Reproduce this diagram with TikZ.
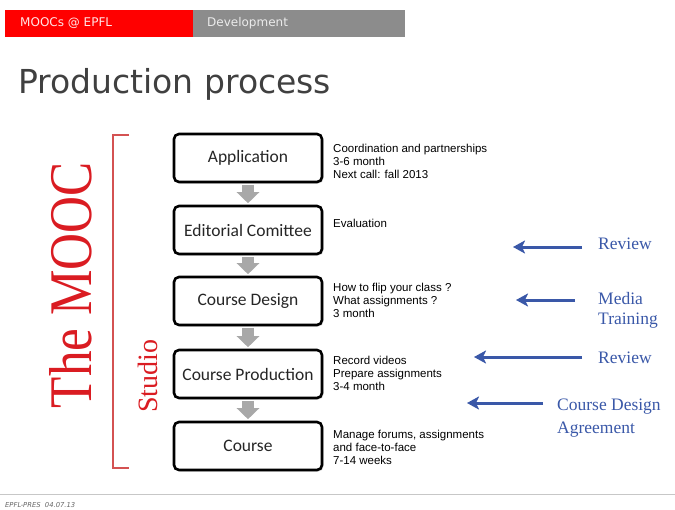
\documentclass[tikz,border=0pt]{standalone}
\usepackage{fontspec}
\setmainfont{Liberation Serif}
\setsansfont{DejaVu Sans}
\newfontfamily\boxfont{Carlito}
\newfontfamily\notefont{Liberation Sans}
\usetikzlibrary{arrows.meta,shadows}

\definecolor{epflred}{RGB}{255,0,0}
\definecolor{bargray}{RGB}{140,140,140}
\definecolor{titlegray}{RGB}{64,64,64}
\definecolor{moocred}{RGB}{218,28,34}
\definecolor{bracketred}{RGB}{212,82,82}
\definecolor{stepgray}{RGB}{168,168,168}
\definecolor{reviewblue}{RGB}{58,88,168}

\tikzset{
  stepbox/.style={draw=black, line width=2.6pt, rounded corners=5pt, fill=white,
    minimum width=148pt, minimum height=48pt, text=black!85,
    font=\boxfont\fontsize{17.5}{20}\selectfont,
    drop shadow={opacity=0.3, shadow xshift=1.5pt, shadow yshift=-1.5pt}},
  steparrow/.style={stepgray, line width=12pt, shorten <=1.5pt, shorten >=1.5pt,
    -{Triangle[width=22pt,length=11pt]}},
  % multi-line nodes sit on the baseline of their last line
  note/.style={anchor=base west, align=left, inner sep=0pt,
    font=\notefont\fontsize{11.5}{13}\selectfont},
  reviewlabel/.style={anchor=base west, align=left, inner sep=0pt, text=reviewblue,
    font=\fontsize{17.5}{20}\selectfont},
  bluearrow/.style={reviewblue, line width=3pt, -{Stealth[length=12pt,width=13pt,inset=3pt]}}
}

\begin{document}
\begin{tikzpicture}[x=1pt, y=-1pt]
        \useasboundingbox (0,0) rectangle (675,509);

        % Draw the header bar
        \fill[epflred] (5,10) rectangle (193,37);
        \fill[bargray] (193,10) rectangle (405,37);
        \node[anchor=west, inner sep=0pt, text=white!90!red, font=\sffamily\fontsize{12}{14}\selectfont]
            (mooctab) at (20,23.5) {MOOCs @ EPFL};
        \node[anchor=west, inner sep=0pt, text=black!8, font=\sffamily\fontsize{12}{14}\selectfont]
            (devtab) at (207,23.5) {Development};

        % Draw the title
        \node[anchor=base west, inner sep=0pt, text=titlegray, font=\sffamily\fontsize{33}{40}\selectfont]
            (title) at (18,93) {Production process};

        % Draw the bracket and the side labels
        \draw[bracketred, line width=2pt] (129,135) -- (113,135) -- (113,468) -- (129,468);
        \node[rotate=90, inner sep=0pt, text=moocred] (mooc) at (71,285)
            {\resizebox{246pt}{42pt}{The MOOC}};
        \node[rotate=90, inner sep=0pt, text=moocred, font=\fontsize{28}{30}\selectfont]
            (studio) at (148,376) {Studio};

        % Draw the steps of the process
        \node[stepbox] (app) at (248,158) {Application};
        \node[stepbox] (edit) at (248,230) {Editorial Comittee};
        \node[stepbox] (design) at (248,301) {Course Design};
        \node[stepbox] (prod) at (248,374) {Course Production};
        \node[stepbox] (course) at (248,446) {Course};

        % Draw the arrows between the steps
        \draw[steparrow] (app) -- (edit);
        \draw[steparrow] (edit) -- (design);
        \draw[steparrow] (design) -- (prod);
        \draw[steparrow] (prod) -- (course);

        % Draw the notes beside each step
        \node[note] (appnote) at (333,178) {Coordination and partnerships\\3-6 month\\Next call: fall 2013};
        \node[note] (editnote) at (333,227) {Evaluation};
        \node[note] (designnote) at (333,317) {How to flip your class ?\\What assignments ?\\3 month};
        \node[note] (prodnote) at (333,390) {Record videos\\Prepare assignments\\3-4 month};
        \node[note] (coursenote) at (333,464) {Manage forums, assignments\\and face-to-face\\7-14 weeks};

        % Draw the reviews on the right
        \node[reviewlabel] (review1) at (598,249) {Review};
        \node[reviewlabel] (media) at (598,324) {Media\\Training};
        \node[reviewlabel] (review2) at (598,363) {Review};
        \node[reviewlabel] (agreement) at (557,433) {Course Design\\[3pt]Agreement};

        \coordinate (review1tip) at (513,247);
        \coordinate (mediatip) at (516,300);
        \coordinate (review2tip) at (474,357);
        \coordinate (agreementtip) at (467,403);

        \draw[bluearrow, shorten <=16pt] (review1.west |- review1tip) -- (review1tip);
        \draw[bluearrow, shorten <=23pt] (media.west |- mediatip) -- (mediatip);
        \draw[bluearrow, shorten <=16pt] (review2.west |- review2tip) -- (review2tip);
        \draw[bluearrow, shorten <=14pt] (agreement.west |- agreementtip) -- (agreementtip);

        % Draw the footer
        \draw[black!22, line width=0.8pt] (0,494) -- (675,494);
        \node[anchor=base west, inner sep=0pt, text=black!60, font=\sffamily\itshape\fontsize{6.8}{8}\selectfont]
            (footer) at (5,507) {EPFL-PRES\ \ 04.07.13};
    \end{tikzpicture}
\end{document}
